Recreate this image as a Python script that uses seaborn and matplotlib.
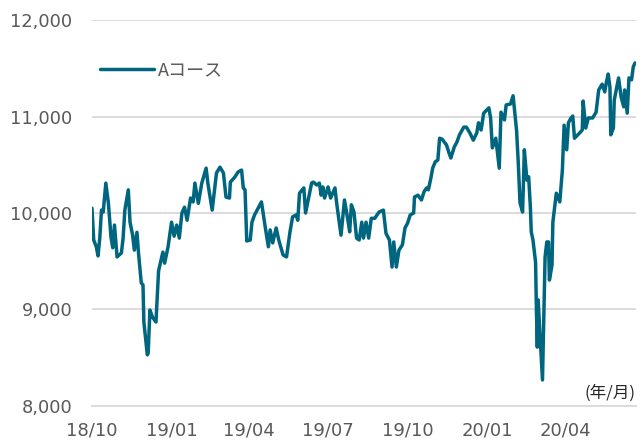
import pandas as pd
import numpy as np
import matplotlib
matplotlib.use("Agg")
import matplotlib.pyplot as plt
import matplotlib.dates as mdates
from matplotlib.ticker import FuncFormatter
import seaborn as sns

# データ (2018/10/01 からの経過日数 と 基準価額)
START_DATE = "2018-10-01"
days = [0, 2, 5, 7, 9, 11, 13, 16, 19, 22, 24, 26, 29, 34, 36, 38, 42, 44, 47, 49,
        52, 54, 57, 59, 60, 64, 65, 67, 70, 74, 77, 80, 82, 84, 88, 92, 95, 98, 101, 104,
        107, 110, 114, 117, 119, 123, 127, 132, 134, 139, 144, 148, 152, 155, 159, 160, 165, 169, 173, 175,
        177, 179, 183, 185, 188, 196, 200, 204, 206, 209, 213, 216, 221, 225, 229, 232, 236, 238, 240, 245,
        247, 254, 256, 260, 263, 265, 267, 269, 273, 276, 281, 283, 288, 292, 296, 298, 300, 303, 306, 309,
        312, 314, 317, 320, 323, 327, 332, 337, 340, 344, 347, 349, 352, 355, 359, 362, 365, 368, 372, 373,
        377, 381, 384, 387, 389, 392, 394, 397, 400, 402, 405, 410, 413, 415, 419, 422, 425, 430, 433, 437,
        441, 445, 447, 450, 453, 459, 461, 463, 467, 471, 473, 477, 479, 484, 487, 491, 493, 495, 498, 500,
        503, 505, 507, 508, 510, 513, 514, 515, 516, 518, 521, 524, 526, 528, 529, 532, 533, 537, 541, 544,
        546, 549, 551, 554, 556, 558, 564, 567, 568, 571, 574, 579, 583, 586, 590, 593, 595, 597, 599, 600,
        603, 604, 609, 612, 615, 616, 619, 621, 624, 626, 628]
nav = [10050, 9720, 9650, 9555, 9740, 10030, 10010, 10310, 10100, 9750, 9640, 9875, 9545, 9585, 9740, 10030, 10240, 9905, 9770, 9615,
       9800, 9565, 9275, 9255, 8870, 8530, 8550, 8995, 8920, 8870, 9400, 9515, 9595, 9480, 9650, 9905, 9760, 9875, 9740, 10000,
       10060, 9925, 10155, 10115, 10310, 10100, 10310, 10465, 10310, 10030, 10415, 10475, 10415, 10165, 10155, 10320, 10370, 10425, 10445, 10260,
       10240, 9710, 9720, 9905, 9980, 10115, 9875, 9650, 9825, 9690, 9845, 9720, 9565, 9545, 9805, 9960, 9980, 9925, 10205, 10260,
       10000, 10310, 10320, 10290, 10310, 10185, 10270, 10155, 10270, 10155, 10260, 10100, 9770, 10135, 9925, 9805, 10085, 10010, 9740, 9720,
       9905, 9740, 9905, 9740, 9945, 9945, 10010, 10030, 9790, 9720, 9440, 9700, 9440, 9615, 9670, 9845, 9895, 9980, 10000, 10165,
       10185, 10135, 10220, 10260, 10240, 10365, 10465, 10530, 10550, 10775, 10765, 10705, 10620, 10570, 10685, 10735, 10810, 10890, 10890, 10830,
       10755, 10830, 10935, 10860, 11035, 11090, 10985, 10675, 10775, 10465, 11045, 10965, 11120, 11130, 11215, 10860, 10520, 10105, 10010, 10655,
       10340, 10375, 10060, 9805, 9720, 9490, 8995, 8610, 9100, 8755, 8270, 9545, 9700, 9700, 9305, 9460, 9905, 10205, 10115, 10445,
       10910, 10655, 10935, 10985, 11005, 10775, 10830, 10860, 11160, 10880, 10985, 10985, 11045, 11275, 11335, 11255, 11360, 11440, 11305, 10810,
       10880, 11170, 11400, 11200, 11100, 11275, 11035, 11400, 11380, 11515, 11555]

tick_dates = ["2018-10-01", "2019-01-01", "2019-04-01", "2019-07-01",
              "2019-10-01", "2020-01-01", "2020-04-01"]
tick_labels = ["18/10", "19/01", "19/04", "19/07", "19/10", "20/01", "20/04"]
y_ticks = [8000, 9000, 10000, 11000, 12000]
series_name = "Aコース"

LINE_COLOR = "#00667F"
TEXT_COLOR = "#595959"
GRID_COLOR = "#D9D9D9"

sns.set_style("white")
plt.rcParams['font.family'] = ['DejaVu Sans', 'Noto Sans CJK JP']

df = pd.DataFrame({
    "date": pd.Timestamp(START_DATE) + pd.to_timedelta(days, unit="D"),
    "nav": nav,
})
df["series"] = series_name

fig = plt.figure(figsize=(6.41, 4.40), dpi=100)
ax = fig.add_axes([0.1435, 0.0773, 0.8485, 0.8772])

sns.lineplot(data=df, x="date", y="nav", hue="series", palette=[LINE_COLOR],
             linewidth=2.5, ax=ax)

# 軸の範囲
ax.set_ylim(8000, 12000)
ax.set_xlim(pd.Timestamp(START_DATE), pd.Timestamp(START_DATE) + pd.Timedelta(days=629))

ax.set_yticks(y_ticks)
ax.yaxis.set_major_formatter(FuncFormatter(lambda v, p: f"{int(v):,}"))
ax.set_xticks(pd.to_datetime(tick_dates))
ax.set_xticklabels(tick_labels)

ax.set_xlabel("")
ax.set_ylabel("")

# グリッド・枠線
ax.grid(axis="y", color=GRID_COLOR, linewidth=1.3)
ax.grid(axis="x", visible=False)
for side in ["top", "right", "left"]:
    ax.spines[side].set_visible(False)
ax.spines["bottom"].set_color(GRID_COLOR)
ax.spines["bottom"].set_linewidth(1.3)
ax.set_axisbelow(True)

ax.tick_params(axis="x", colors=GRID_COLOR, length=5, width=1.3, pad=6,
               labelsize=13, labelcolor=TEXT_COLOR)
ax.tick_params(axis="y", length=0, pad=14, labelsize=12.8, labelcolor=TEXT_COLOR)

# 凡例
leg = ax.legend(loc="upper left", bbox_to_anchor=(-0.016, 0.934), frameon=False,
                handlelength=3.0, handletextpad=0.25, fontsize=13)
for t in leg.get_texts():
    t.set_color(TEXT_COLOR)
    t.set_family(['Noto Sans CJK JP', 'DejaVu Sans'])

# 単位
ax.text(1.0, 0.012, "(年/月)", transform=ax.transAxes, ha="right", va="bottom",
        fontsize=12, color="#262626", family=['Noto Sans CJK JP', 'DejaVu Sans'])

fig.savefig("out.png", dpi=100)
